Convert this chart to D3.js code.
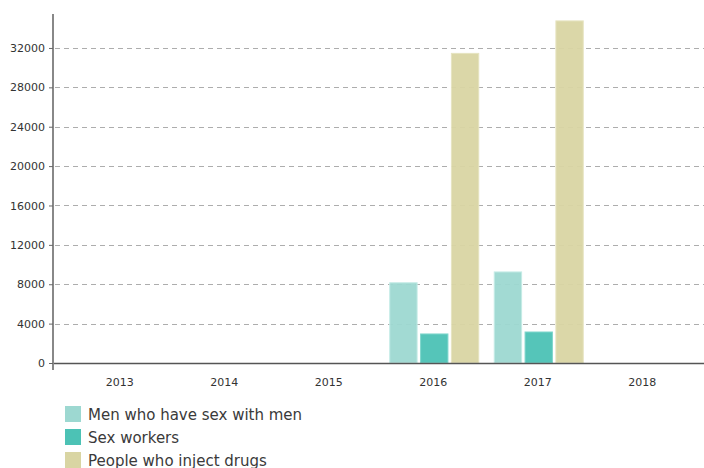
<!DOCTYPE html>
<html>
<head>
<meta charset="utf-8">
<script src="https://cdn.jsdelivr.net/npm/d3@7"></script>
<style>
  body { margin: 0; background: #fff; }
  svg { display: block; font-family: "DejaVu Sans", sans-serif; }
</style>
</head>
<body>
<svg id="chart" width="704" height="468"></svg>
<script>
const years = ["2013", "2014", "2015", "2016", "2017", "2018"];
const seriesNames = ["Men who have sex with men", "Sex workers", "People who inject drugs"];
const msm  = [null, null, null, 8200, 9300, null];
const sw   = [null, null, null, 3000, 3200, null];
const pwid = [null, null, null, 31500, 34800, null];
const yTicks = [0, 4000, 8000, 12000, 16000, 20000, 24000, 28000, 32000];
const colors = ["#9dd8d1", "#4cc2b5", "#d9d5a3"];
const strokes = ["#c4ebe6", "#7fd6cc", "#e6e3c1"];

const seriesVals = [msm, sw, pwid];
const svg = d3.select("#chart");
const left = 53, zeroY = 363, topY = 14;

const y = d3.scaleLinear().domain([0, 35450]).range([zeroY, topY]);
const x = d3.scaleBand().domain(years).range([67.5, 694.5]);
const xs = d3.scaleBand().domain(seriesNames).range([0, 90]).paddingInner(0.08);
const groupOffset = (x.bandwidth() - 90) / 2 + 1;

// grid
svg.append("g").selectAll("line").data(yTicks.filter(d => d > 0)).join("line")
  .attr("x1", left + 2).attr("x2", 704)
  .attr("y1", d => Math.round(y(d)) + 0.5).attr("y2", d => Math.round(y(d)) + 0.5)
  .attr("stroke", "#adadad").attr("stroke-width", 1).attr("stroke-dasharray", "5,4");

// bars
seriesNames.forEach((s, si) => {
  svg.append("g").selectAll("rect")
    .data(years.map((yr, i) => ({yr, v: seriesVals[si][i]})).filter(d => d.v != null))
    .join("rect")
    .attr("x", d => x(d.yr) + groupOffset + xs(s) + 0.5)
    .attr("y", d => y(d.v) + 0.5)
    .attr("width", xs.bandwidth() - 1)
    .attr("height", d => zeroY - y(d.v) - 0.5)
    .attr("fill", colors[si])
    .attr("fill-opacity", 0.95)
    .attr("stroke", strokes[si])
    .attr("stroke-width", 1);
});

// x axis
svg.append("line").attr("x1", left).attr("x2", 704)
  .attr("y1", zeroY + 0.5).attr("y2", zeroY + 0.5)
  .attr("stroke", "#555").attr("stroke-width", 1.5);

const xAxis = svg.append("g").attr("transform", `translate(0,${zeroY})`)
  .call(d3.axisBottom(x).tickSize(0).tickPadding(15));
xAxis.select(".domain").remove();
xAxis.selectAll("text").attr("font-size", 11).attr("fill", "#333").attr("font-family", "DejaVu Sans, sans-serif");

// y axis
svg.append("line").attr("x1", left).attr("x2", left)
  .attr("y1", topY).attr("y2", zeroY + 7)
  .attr("stroke", "#888").attr("stroke-width", 2);
const yAxis = svg.append("g").attr("transform", `translate(${left},0)`)
  .call(d3.axisLeft(y).tickValues(yTicks).tickSize(4).tickPadding(4).tickFormat(d3.format("d")));
yAxis.select(".domain").remove();
yAxis.selectAll("line").attr("stroke", "#666");
yAxis.selectAll("text").attr("font-size", 11).attr("fill", "#333").attr("font-family", "DejaVu Sans, sans-serif");

// legend
const lg = svg.append("g").attr("transform", "translate(65,406)");
seriesNames.forEach((s, i) => {
  const g = lg.append("g").attr("transform", `translate(0,${i * 23})`);
  g.append("rect").attr("width", 16).attr("height", 16).attr("fill", colors[i]);
  g.append("text").attr("x", 23).attr("y", 13.5).attr("font-size", 15)
    .attr("fill", "#3a3a3a").text(s);
});
</script>
</body>
</html>
